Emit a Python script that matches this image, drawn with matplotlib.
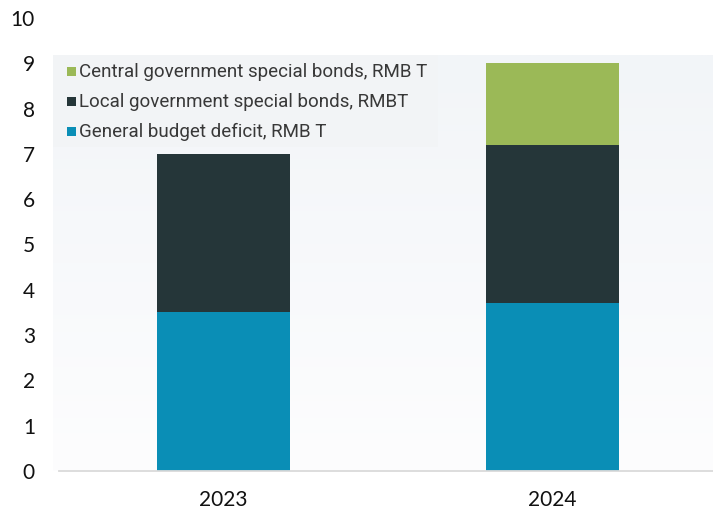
import numpy as np
import matplotlib
matplotlib.use("Agg")
import matplotlib.pyplot as plt
from matplotlib.patches import Rectangle
from matplotlib.colors import to_rgb

# Fiscal financing, RMB trillion
years = ["2023", "2024"]
general_deficit = [3.5, 3.7]
local_special = [3.5, 3.5]
central_special = [0.0, 1.8]

series_labels = [
    "General budget deficit, RMB T",
    "Local government special bonds, RMBT",
    "Central government special bonds, RMB T",
]
series_colors = ["#0a8eb6", "#253639", "#9bb957"]
yticks = list(range(0, 11))

W, H = 713, 511
fig = plt.figure(figsize=(W / 100, H / 100), dpi=100)
fig.patch.set_facecolor("white")

# axes box in pixels (left, top, right, bottom)
L, T, R, B = 53, 18, 713, 471
ax = fig.add_axes([L / W, 1 - B / H, (R - L) / W, (B - T) / H])
ax.set_facecolor("none")
ax.set_xlim(-0.518, 1.488)
ax.set_ylim(0, 10)

# soft panel background behind the bars
top_val = 9.18
c_top = np.array(to_rgb("#f2f5f8"))
c_bot = np.array(to_rgb("#fdfdfe"))
t = np.linspace(0, 1, 256)[:, None]
grad = c_top * (1 - t) + c_bot * t
grad = np.repeat(grad[:, None, :], 2, axis=1)
ax.imshow(grad, extent=[-0.518, 1.488, 0, top_val], aspect="auto",
          zorder=0, interpolation="bilinear")

x = np.arange(len(years))
width = 0.404
stacks = [general_deficit, local_special, central_special]
bottom = np.zeros(len(years))
for vals, col in zip(stacks, series_colors):
    vals = np.array(vals)
    ax.bar(x, vals, width=width, bottom=bottom, color=col, zorder=2,
           linewidth=0)
    bottom += vals

ax.plot([-0.50, 1.488], [0, 0], color="#dadada", lw=1.3, zorder=3,
        clip_on=False)

for s in ax.spines.values():
    s.set_visible(False)

ax.set_xticks(x)
ax.set_xticklabels(years, fontfamily="Lato", fontsize=15, color="#111111")
ax.set_yticks(yticks)
ax.set_yticklabels([str(v) for v in yticks], fontfamily="Lato",
                   fontsize=15, color="#111111")
ax.tick_params(axis="both", length=0)
ax.tick_params(axis="y", pad=13)
ax.tick_params(axis="x", pad=14)

# legend panel
ax.add_patch(Rectangle((-0.518, 7.15), 1.17, top_val - 7.15,
                       facecolor="#f2f4f6", edgecolor="none", zorder=1))

legend_y = [132, 102, 72]
for lab, col, yp in zip(series_labels, series_colors, legend_y):
    sq = 9
    fig.patches.append(Rectangle(((67) / W, 1 - (yp + sq / 2) / H), sq / W,
                                 sq / H, transform=fig.transFigure,
                                 facecolor=col, edgecolor="none"))
    fig.text(79 / W, 1 - yp / H, lab, fontfamily="Roboto", fontsize=13.5,
             color="#383838", va="center", ha="left")

fig.savefig("out.png", dpi=100, facecolor="white")
